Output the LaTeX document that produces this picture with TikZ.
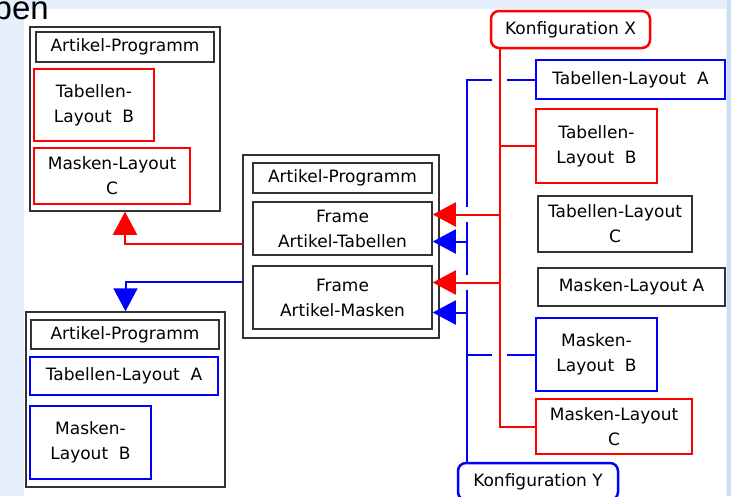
\documentclass[tikz,border=0pt]{standalone}
\usepackage{fontspec}
\setmainfont{DejaVu Sans}
\newfontfamily\titlefont{Liberation Sans}
\usetikzlibrary{arrows.meta}
\definecolor{slideblue}{RGB}{230,239,252}
\definecolor{slideedge}{RGB}{204,222,247}

\begin{document}
\begin{tikzpicture}[
    x=1pt, y=-1pt,
    every node/.style={inner sep=0pt, align=center, font=\fontsize{17}{25}\selectfont},
    box/.style={draw=black!80, line width=1.5pt},
    redbox/.style={draw=red, line width=2.5pt},
    bluebox/.style={draw=blue, line width=2.5pt},
    konf/.style={rounded corners=8pt},
    wh/.style 2 args={minimum width=#1pt, minimum height=#2pt},
    redline/.style={draw=red, line width=2pt},
    blueline/.style={draw=blue, line width=2pt},
    tip/.style={-{Triangle[length=23pt, width=24pt]}},
    hop/.style={draw=white, line width=4.5pt}
]
\useasboundingbox (0, 0) rectangle (731, 496);
\clip (0, 0) rectangle (731, 496);
\fill[slideblue] (0, 0) rectangle (731, 496);
\fill[white] (24, 9) rectangle (726, 496);
\fill[slideedge] (727, 0) rectangle (731, 496);
\node[font=\titlefont\fontsize{33}{38}\selectfont, anchor=base east] (ttl) at (49, 19.5) {ben};

\node[box, wh={190}{184}] (tl) at (125, 119) {};
\node[box, wh={178}{30}] (tlprog) at (125, 47) {Artikel-Programm};
\node[redbox, wh={120}{72}] (tltab) at (94, 105) {Tabellen-\\Layout~~B};
\node[redbox, wh={156}{56}] (tlmsk) at (112, 176) {Masken-Layout\\C};

\node[box, wh={196}{183}] (mid) at (341, 246.5) {};
\node[box, wh={179}{30}] (midprog) at (342.5, 178) {Artikel-Programm};
\node[box, wh={179}{53}] (ftab) at (342.5, 228.5) {Frame\\Artikel-Tabellen};
\node[box, wh={179}{63}] (fmsk) at (342.5, 297.5) {Frame\\Artikel-Masken};

\node[box, wh={199}{175}] (bl) at (125.5, 399.5) {};
\node[box, wh={188}{29}] (blprog) at (125, 334.5) {Artikel-Programm};
\node[bluebox, wh={188}{38}] (bltab) at (124, 376) {Tabellen-Layout~~A};
\node[bluebox, wh={121}{73}] (blmsk) at (90.5, 442.5) {Masken-\\Layout~~B};

\node[redbox, konf, wh={159}{37}] (kx) at (570.5, 29.5) {Konfiguration X};
\node[bluebox, wh={189}{39}] (ta) at (630.5, 79.5) {Tabellen-Layout~~A};
\node[redbox, wh={121}{74}] (tb) at (596.5, 146) {Tabellen-\\Layout~~B};
\node[box, wh={154}{56}] (tc) at (615, 224) {Tabellen-Layout\\C};
\node[box, wh={187}{38}] (ma) at (631.5, 287) {Masken-Layout A};
\node[bluebox, wh={121}{73}] (mb) at (596.5, 354.5) {Masken-\\Layout~~B};
\node[redbox, wh={156}{55}] (mc) at (614, 426.5) {Masken-Layout\\C};
\node[bluebox, konf, wh={160}{37}] (ky) at (538, 481.5) {Konfiguration Y};

\coordinate (rbus) at ([xshift=10pt]kx.south west);
\coordinate (bbus) at ([xshift=10pt]ky.north west);
\coordinate (ftabr) at ([yshift=14pt]ftab.east);
\coordinate (ftabb) at ([yshift=-13pt]ftab.east);
\coordinate (fmskr) at ([yshift=15pt]fmsk.east);
\coordinate (fmskb) at ([yshift=-15pt]fmsk.east);

\draw[blueline] (bbus) |- (ta.west);
\draw[blueline] (bbus |- mb.west) -- (mb.west);
\draw[blueline, tip] (bbus |- ftabb) -- (ftabb);
\draw[blueline, tip] (bbus |- fmskb) -- (fmskb);
\draw[blueline, tip] ([yshift=-35.5pt]mid.west) -| (bl.north);

\foreach \p in {ta, mb}
    \draw[hop] (rbus |- \p.west) ++(-7.5, 0) -- ++(15, 0);
\foreach \p in {ftabr, fmskr}
    \draw[hop] (bbus |- \p) ++(0, -7.5) -- ++(0, 15);

\draw[redline] (rbus) |- (mc.west);
\draw[redline] (rbus |- tb.west) -- (tb.west);
\draw[redline, tip] (rbus |- ftabr) -- (ftabr);
\draw[redline, tip] (rbus |- fmskr) -- (fmskr);
\draw[redline, tip] ([yshift=2.5pt]mid.west) -| (tl.south);
\end{tikzpicture}
\end{document}
